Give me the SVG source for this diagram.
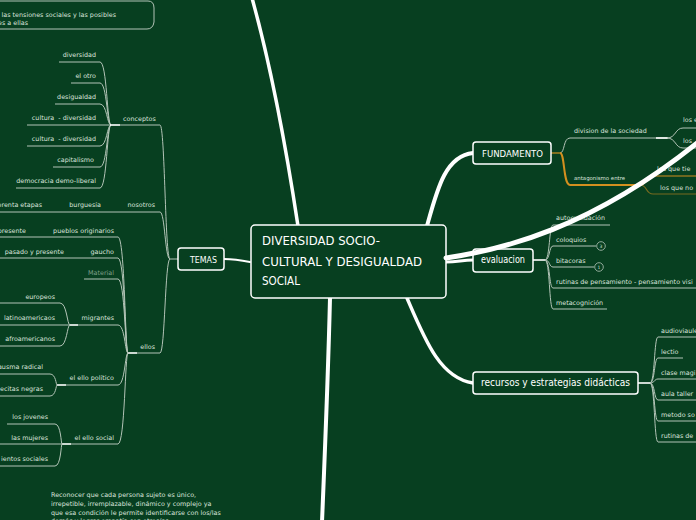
<svg xmlns="http://www.w3.org/2000/svg" width="696" height="520" viewBox="0 0 696 520">
<style>
.t{font-family:"DejaVu Sans",sans-serif;font-size:6.4px;fill:#dbe4dd}
.e{text-anchor:end}
.g{fill:#7f9e88}
.sm{font-size:5.4px}
.ln{fill:none;stroke:#b3c4b7;stroke-width:1}
.hl{fill:none;stroke:#ffffff;stroke-width:1.6}
.or{fill:none;stroke:#d3901f;stroke-width:1.2}
.orb{fill:none;stroke:#d3901f;stroke-width:2}
.main{fill:none;stroke:#ffffff;stroke-linecap:round}
.node{fill:#073f20;stroke:#ffffff;stroke-width:1.5}
.h{font-family:"DejaVu Sans",sans-serif;fill:#ffffff}
.badge{fill:#073f20;stroke:#b3c4b7;stroke-width:0.8}
</style>
<rect width="696" height="520" fill="#073f20"/>

<g id="connectors">
  <!-- top-left note bracket -->
  <path class="ln" d="M0,1 H148 Q154,1 154,8 V22 Q153,29 147,29 H0"/>
  <!-- concepts children -->
  <path class="ln" d="M59,62 H100 C107,62 107,125 111,125"/>
  <path class="ln" d="M71,83 H100 C107,83 107,125 111,125"/>
  <path class="ln" d="M55,104 H100 C107,104 107,125 111,125"/>
  <path class="ln" d="M27,125 H111"/>
  <path class="ln" d="M27,146 H100 C107,146 107,125 111,125"/>
  <path class="ln" d="M53,167 H100 C107,167 107,125 111,125"/>
  <path class="ln" d="M16,188 H100 C107,188 107,125 111,125"/>
  <!-- temas children -->
  <path class="ln" d="M120,125 H160 C165,125 165,259 170,259"/>
  <path class="hl" d="M110,125 H120"/>
  <path class="ln" d="M0,212 H160 C165,212 165,259 170,259"/>
  <path class="ln" d="M137,353 H160 C165,353 165,259 170,259"/>
  <path class="hl" d="M128,353 H137"/>
  <path class="ln" d="M170,259 H178"/>
  <!-- ellos children -->
  <path class="ln" d="M0,237 H118 C125,237 125,353 128,353"/>
  <path class="ln" d="M0,258 H118 C125,258 125,353 128,353"/>
  <path class="ln" d="M84,279 H118 C125,279 125,353 128,353"/>
  <path class="ln" d="M78,325 H118 C125,325 125,353 128,353"/>
  <path class="ln" d="M66,385 H118 C125,385 125,353 128,353"/>
  <path class="ln" d="M71,444 H118 C125,444 125,353 128,353"/>
  <path class="hl" d="M70,325 H78"/>
  <path class="hl" d="M57,385 H66"/>
  <path class="hl" d="M62,444 H71"/>
  <!-- migrantes children -->
  <path class="ln" d="M0,303 H60 C67,303 67,325 70,325"/>
  <path class="ln" d="M0,325 H70"/>
  <path class="ln" d="M0,346 H60 C67,346 67,325 70,325"/>
  <!-- el ello politico children -->
  <path class="ln" d="M0,374 H50 C56,374 56,385 57,385"/>
  <path class="ln" d="M0,396 H50 C56,396 56,385 57,385"/>
  <!-- el ello social children -->
  <path class="ln" d="M7,424 H55 C61,424 61,444 62,444"/>
  <path class="ln" d="M0,444 H62"/>
  <path class="ln" d="M0,466 H55 C61,466 61,444 62,444"/>

  <!-- fundamento -->
  <path class="ln" d="M560,153 C565,153 563,138 570,138 H668"/>
  <path class="hl" d="M656,138 H668"/>
  <path class="ln" d="M667,138 C676,138 675,128 683,128 H696"/>
  <path class="ln" d="M667,138 C676,138 675,148 683,148 H696"/>
  <path class="or" d="M551,153 H560"/>
  <path class="orb" d="M560,153 C565,153 563,185 570,185 H640"/>
  <path class="or" d="M640,185 C648,185 645,176 653,176 H696"/>
  <path class="or" d="M640,185 C648,185 645,194 653,194 H696" opacity="0.55"/>

  <!-- evaluacion -->
  <path class="hl" d="M533,260 H545"/>
  <path class="ln" d="M545,260 C550,260 549,225 553,225 H610"/>
  <path class="ln" d="M545,260 C550,260 549,246 553,246 H596"/>
  <path class="ln" d="M545,260 C550,260 549,267 553,267 H594"/>
  <path class="ln" d="M545,260 C550,260 549,288 553,288 H696"/>
  <path class="ln" d="M545,260 C550,260 549,309 553,309 H607"/>

  <!-- recursos -->
  <path class="hl" d="M638,383 H650"/>
  <path class="ln" d="M650,383 C655,383 654,337 658,337 H696"/>
  <path class="ln" d="M650,383 C655,383 654,358 658,358 H683"/>
  <path class="ln" d="M650,383 C655,383 654,379 658,379 H696"/>
  <path class="ln" d="M650,383 C655,383 654,400 658,400 H696"/>
  <path class="ln" d="M650,383 C655,383 654,421 658,421 H696"/>
  <path class="ln" d="M650,383 C655,383 654,442 658,442 H696"/>

  <!-- main thick connectors -->
  <path class="main" stroke-width="3.5" d="M298,226 C288,160 272,70 252,-2"/>
  <path class="main" stroke-width="4" d="M427,226 C437,190 445,156 473,153"/>
  <path class="main" stroke-width="3" d="M446,262 C458,262 462,260 473,260"/>
  <path class="main" stroke-width="3.5" d="M407,298 C425,340 440,378 473,383"/>
  <path class="main" stroke-width="4" d="M330,298 C328,380 325,450 322,522"/>
  <path class="main" stroke-width="2" d="M250,262 C240,260 232,259 224,259"/>
</g>

<g id="texts-left">
  <text class="t e" x="116" y="17">las tensiones sociales y las posibles</text>
  <text class="t e" x="28" y="25">es a ellas</text>
  <text class="t e" x="96" y="57">diversidad</text>
  <text class="t e" x="96" y="78">el otro</text>
  <text class="t e" x="96" y="99">desigualdad</text>
  <text class="t e" x="96" y="120" xml:space="preserve">cultura  - diversidad</text>
  <text class="t e" x="96" y="141" xml:space="preserve">cultura  - diversidad</text>
  <text class="t e" x="94" y="162">capitalismo</text>
  <text class="t e" x="96" y="183">democracia demo-liberal</text>
  <text class="t" x="123" y="121">conceptos</text>
  <text class="t e" x="42" y="207">erenta etapas</text>
  <text class="t e" x="101" y="207">burguesía</text>
  <text class="t e" x="155" y="207">nosotros</text>
  <text class="t e" x="155" y="349">ellos</text>
  <text class="t e" x="26" y="233">presente</text>
  <text class="t e" x="114" y="233">pueblos originarios</text>
  <text class="t e" x="64" y="254">pasado y presente</text>
  <text class="t e" x="114" y="254">gaucho</text>
  <text class="t e g" x="114" y="275">Material</text>
  <text class="t e" x="55" y="299">europeos</text>
  <text class="t e" x="55" y="320">latinoamericaos</text>
  <text class="t e" x="114" y="320">migrantes</text>
  <text class="t e" x="55" y="341">afroamericanos</text>
  <text class="t e" x="43" y="369">ausma radical</text>
  <text class="t e" x="114" y="380">el ello político</text>
  <text class="t e" x="43" y="391">ecitas negras</text>
  <text class="t e" x="48" y="419">los jovenes</text>
  <text class="t e" x="48" y="440">las mujeres</text>
  <text class="t e" x="114" y="440">el ello social</text>
  <text class="t e" x="48" y="461">ientos sociales</text>
  <text class="t" x="51" y="497">Reconocer que cada persona sujeto es único,</text>
  <text class="t" x="51" y="506">irrepetible, irremplazable, dinámico y complejo ya</text>
  <text class="t" x="51" y="514.5">que esa condición le permite identificarse con los/las</text>
  <text class="t" x="51" y="523">demás y lograr empatía con otros/as</text>
</g>

<g id="texts-right">
  <text class="t" x="574" y="133">division de la sociedad</text>
  <text class="t" x="683" y="122">los e</text>
  <text class="t" x="683" y="143">los</text>
  <text class="t sm" x="574" y="180">antagonismo entre</text>
  <text class="t" x="657" y="171">los que tie</text>
  <text class="t" x="660" y="190">los que no</text>
  <text class="t" x="556" y="220">autoevaluación</text>
  <text class="t" x="556" y="242">coloquios</text>
  <text class="t" x="556" y="263">bitacoras</text>
  <text class="t" x="556" y="284">rutinas de pensamiento - pensamiento visi</text>
  <text class="t" x="556" y="305">metacognición</text>
  <circle class="badge" cx="601" cy="246" r="4.3"/>
  <text class="t" x="601" y="247.6" style="font-size:4.5px;text-anchor:middle">3</text>
  <circle class="badge" cx="599" cy="267" r="4.3"/>
  <text class="t" x="599" y="268.6" style="font-size:4.5px;text-anchor:middle">1</text>
  <text class="t" x="661" y="333">audioviaule</text>
  <text class="t" x="661" y="354">lectio</text>
  <text class="t" x="661" y="375">clase magi</text>
  <text class="t" x="661" y="396">aula taller</text>
  <text class="t" x="661" y="417">metodo so</text>
  <text class="t" x="661" y="438">rutinas de</text>
</g>

<g id="node-temas">
  <rect class="node" x="178" y="248" width="46" height="22" rx="3"/>
  <text class="h" x="190" y="263" font-size="9" textLength="27" lengthAdjust="spacingAndGlyphs">TEMAS</text>
</g>
<g id="node-center">
  <rect class="node" x="251" y="225" width="195" height="73" rx="4" stroke-width="1.8"/>
  <text class="h" x="262" y="245" font-size="13" textLength="118" lengthAdjust="spacingAndGlyphs">DIVERSIDAD SOCIO-</text>
  <text class="h" x="262" y="266" font-size="13" textLength="160" lengthAdjust="spacingAndGlyphs">CULTURAL Y DESIGUALDAD</text>
  <text class="h" x="262" y="285" font-size="13" textLength="38" lengthAdjust="spacingAndGlyphs">SOCIAL</text>
</g>
<g id="node-fundamento">
  <rect class="node" x="473" y="142" width="78" height="22" rx="3"/>
  <text class="h" x="482" y="157" font-size="9.5" textLength="61" lengthAdjust="spacingAndGlyphs">FUNDAMENTO</text>
</g>
<g id="node-evaluacion">
  <rect class="node" x="473" y="249" width="60" height="23" rx="3"/>
  <text class="h" x="481" y="263" font-size="10" textLength="44" lengthAdjust="spacingAndGlyphs">evaluacion</text>
</g>
<g id="node-recursos">
  <rect class="node" x="473" y="372" width="165" height="22" rx="3"/>
  <text class="h" x="481" y="386" font-size="10" textLength="149" lengthAdjust="spacingAndGlyphs">recursos y estrategias didácticas</text>
</g>

<g id="swoosh">
  <path class="main" stroke-width="5" d="M446,258 C500,250 590,230 702,139"/>
</g>
</svg>
